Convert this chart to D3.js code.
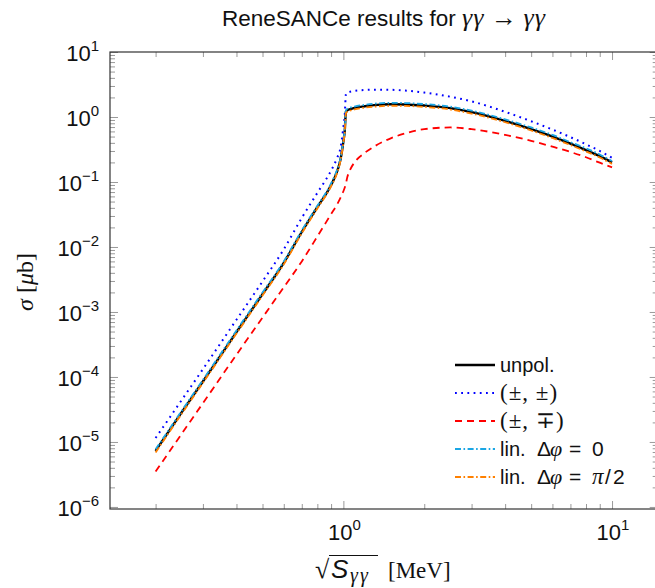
<!DOCTYPE html>
<html><head><meta charset="utf-8">
<script src="https://cdn.jsdelivr.net/npm/d3@7"></script>
<style>body{margin:0;background:#fff}</style>
</head><body>
<svg id="c" width="655" height="588"></svg>
<script>
// ---- data ----
const energies = [0.2, 0.25, 0.3, 0.4, 0.5, 0.6, 0.7, 0.8, 0.9, 0.95, 0.975, 1.0, 1.012, 1.022, 1.035, 1.06, 1.1, 1.2, 1.3, 1.5, 1.7, 2.0, 2.5, 3.0, 4.0, 5.0, 6.0, 7.0, 8.0, 9.0, 10];
const unpol     = [7.3e-6, 2.85e-5, 8.5e-5, 4.9e-4, 1.88e-3, 5.7e-3, 0.017, 0.041, 0.09, 0.15, 0.22, 0.42, 0.62, 1.2, 1.27, 1.32, 1.38, 1.46, 1.52, 1.57, 1.56, 1.5, 1.37, 1.19, 0.87, 0.65, 0.5, 0.39, 0.31, 0.25, 0.2];
const plusPlus  = [1.15e-5, 4.4e-5, 1.32e-4, 7.6e-4, 2.95e-3, 9.2e-3, 0.028, 0.068, 0.15, 0.24, 0.33, 0.7, 1.1, 2.25, 2.38, 2.45, 2.52, 2.6, 2.63, 2.62, 2.55, 2.38, 2.05, 1.74, 1.2, 0.86, 0.64, 0.49, 0.38, 0.3, 0.235];
const plusMinus = [3.5e-6, 1.33e-5, 3.95e-5, 2.2e-4, 8.2e-4, 2.4e-3, 6.0e-3, 0.0145, 0.032, 0.046, 0.057, 0.072, 0.082, 0.095, 0.12, 0.155, 0.2, 0.28, 0.35, 0.47, 0.56, 0.65, 0.69, 0.65, 0.53, 0.43, 0.35, 0.29, 0.24, 0.198, 0.168];
const linZero   = [7.7e-6, 3.0e-5, 9.0e-5, 5.2e-4, 2.0e-3, 6.0e-3, 0.018, 0.043, 0.095, 0.159, 0.23, 0.44, 0.65, 1.26, 1.34, 1.39, 1.45, 1.54, 1.6, 1.65, 1.64, 1.58, 1.44, 1.25, 0.92, 0.69, 0.53, 0.41, 0.33, 0.265, 0.21];
const linHalfPi = [6.9e-6, 2.7e-5, 8.1e-5, 4.65e-4, 1.79e-3, 5.4e-3, 0.0162, 0.039, 0.086, 0.142, 0.21, 0.40, 0.59, 1.14, 1.21, 1.25, 1.31, 1.39, 1.44, 1.49, 1.48, 1.43, 1.3, 1.13, 0.83, 0.62, 0.475, 0.37, 0.295, 0.238, 0.19];

const xMajorTicks = [1, 10];
const xMajorLabels = ["0", "1"];
const yMajorTicks = [1e-6, 1e-5, 1e-4, 1e-3, 1e-2, 1e-1, 1, 10];
const yMajorLabels = ["\u22126", "\u22125", "\u22124", "\u22123", "\u22122", "\u22121", "0", "1"];

const series = [
  {vals: unpol,     color: "#000000", width: 2.4, dash: null},
  {vals: plusPlus,  color: "#0000ff", width: 2.0, dash: "1.8,4.4"},
  {vals: plusMinus, color: "#ff0000", width: 1.8, dash: "7,5"},
  {vals: linZero,   color: "#1aa6e4", width: 1.8, dash: "6,2.5,1.6,2.5"},
  {vals: linHalfPi, color: "#ff8000", width: 1.8, dash: "6,2.5,1.6,2.5"}
];

const SANS = "'Liberation Sans', Arial, sans-serif";
const SERIF = "'Liberation Serif', 'DejaVu Serif', serif";

const svg = d3.select("#c");
const L = 110, R = 657.7, T = 52, B = 509;
const x = d3.scaleLog().domain([0.1353, 14.79]).range([L, R]);
const y = d3.scaleLog().domain([9.3e-7, 10]).range([B, T]);

// minor tick positions
const xMinor = [];
[0.1, 1].forEach(b => { for (let k = 2; k <= 9; k++) { const v = k * b; if (v >= 0.1353 && v <= 14.79) xMinor.push(v); } });
const yMinor = [];
for (let n = -7; n <= 0; n++) for (let k = 2; k <= 9; k++) { const v = k * Math.pow(10, n); if (v >= 9.3e-7 && v <= 10) yMinor.push(v); }

function tickAxis(gen, tr, vals, size) {
  const g = svg.append("g").attr("transform", tr)
    .call(gen.tickValues(vals).tickSize(-size).tickSizeOuter(0).tickFormat(""));
  g.select(".domain").remove();
  g.selectAll(".tick line").attr("stroke", "#9a9a9a").attr("stroke-width", 1);
  return g;
}
tickAxis(d3.axisBottom(x), `translate(0,${B})`, xMinor, 5);
tickAxis(d3.axisBottom(x), `translate(0,${B})`, xMajorTicks, 8);
tickAxis(d3.axisTop(x), `translate(0,${T})`, xMinor, 5);
tickAxis(d3.axisTop(x), `translate(0,${T})`, xMajorTicks, 8);
tickAxis(d3.axisLeft(y), `translate(${L},0)`, yMinor, 5);
tickAxis(d3.axisLeft(y), `translate(${L},0)`, yMajorTicks, 8);
tickAxis(d3.axisRight(y), `translate(${R},0)`, yMinor, 5);
tickAxis(d3.axisRight(y), `translate(${R},0)`, yMajorTicks, 8);

// curves
svg.append("clipPath").attr("id", "pc").append("rect")
  .attr("x", L).attr("y", T).attr("width", R - L).attr("height", B - T);
const line = d3.line().x(d => x(d[0])).y(d => y(d[1])).curve(d3.curveMonotoneX);
series.forEach(s => {
  svg.append("path")
    .datum(energies.map((e, i) => [e, s.vals[i]]))
    .attr("d", line).attr("fill", "none")
    .attr("stroke", s.color).attr("stroke-width", s.width)
    .attr("stroke-dasharray", s.dash).attr("clip-path", "url(#pc)");
});

// frame
svg.append("rect").attr("x", L).attr("y", T).attr("width", R - L).attr("height", B - T)
  .attr("fill", "none").attr("stroke", "#333").attr("stroke-width", 1.2);

// tick labels
xMajorTicks.forEach((v, i) => {
  const t = svg.append("text").attr("x", x(v) + 1).attr("y", 540)
    .attr("text-anchor", "middle").attr("font-family", SANS).attr("font-size", 22).attr("fill", "#111");
  t.append("tspan").text("10");
  t.append("tspan").attr("dy", -10).attr("font-size", 15).text(xMajorLabels[i]);
});
yMajorTicks.forEach((v, i) => {
  const t = svg.append("text").attr("x", 99).attr("y", y(v) + 9)
    .attr("text-anchor", "end").attr("font-family", SANS).attr("font-size", 22).attr("fill", "#111");
  t.append("tspan").text("10");
  t.append("tspan").attr("dy", -10).attr("font-size", 15).text(yMajorLabels[i]);
});

// title
const title = svg.append("text").attr("x", 384).attr("y", 26).attr("text-anchor", "middle")
  .attr("font-family", SANS).attr("font-size", 22.5).attr("fill", "#111");
title.append("tspan").text("ReneSANCe results for ");
title.append("tspan").attr("font-family", SERIF).attr("font-style", "italic").attr("font-size", 26).attr("letter-spacing", 1).text("\u03b3\u03b3");
title.append("tspan").attr("font-family", SERIF).attr("font-size", 26).text(" \u2192 ");
title.append("tspan").attr("font-family", SERIF).attr("font-style", "italic").attr("font-size", 26).attr("letter-spacing", 1).text("\u03b3\u03b3");

// x label
const xl = svg.append("text").attr("y", 578).attr("font-family", SERIF)
  .attr("font-size", 23).attr("fill", "#111");
xl.append("tspan").attr("x", 315).attr("font-size", 26).text("\u221a");
xl.append("tspan").attr("x", 331).attr("font-family", SANS).attr("font-style", "italic").attr("font-size", 26).text("S");
xl.append("tspan").attr("x", 350).attr("dy", 3.5).attr("font-size", 20).attr("letter-spacing", 2).attr("font-style", "italic").text("\u03b3\u03b3");
xl.append("tspan").attr("x", 388).attr("dy", -3.5).text("[MeV]");
svg.append("line").attr("x1", 329).attr("x2", 378).attr("y1", 555.5).attr("y2", 555.5)
  .attr("stroke", "#111").attr("stroke-width", 1.2);

// y label
const yl = svg.append("text").attr("transform", "translate(33,282) rotate(-90)")
  .attr("text-anchor", "middle").attr("font-family", SERIF).attr("font-size", 24).attr("fill", "#111");
yl.append("tspan").attr("font-style", "italic").text("\u03c3");
yl.append("tspan").text(" [");
yl.append("tspan").attr("font-style", "italic").text("\u03bc");
yl.append("tspan").text("b]");

// legend
const legendRows = [
  [["unpol.", SANS, "normal", 500, 20]],
  [["(\u00b1, \u00b1)", SERIF, "normal", 500, 23]],
  [["(\u00b1, \u2213)", SERIF, "normal", 500, 23]],
  [["lin.", SANS, "normal", 500, 20], ["\u0394", SANS, "normal", 537, 21], ["\u03c6", SERIF, "italic", 550, 22], ["=", SANS, "normal", 569, 21], ["0", SANS, "normal", 592, 21]],
  [["lin.", SANS, "normal", 500, 20], ["\u0394", SANS, "normal", 537, 21], ["\u03c6", SERIF, "italic", 550, 22], ["=", SANS, "normal", 569, 21], ["\u03c0", SERIF, "italic", 592, 23], ["/", SANS, "normal", 605, 21], ["2", SANS, "normal", 613, 21]]
];
series.forEach((s, i) => {
  const yy = 365 + i * 28;
  svg.append("line").attr("x1", 455).attr("x2", 495).attr("y1", yy).attr("y2", yy)
    .attr("stroke", s.color).attr("stroke-width", s.width).attr("stroke-dasharray", s.dash);
  const t = svg.append("text").attr("y", yy + 7).attr("fill", "#111");
  legendRows[i].forEach(p => t.append("tspan").attr("x", p[3]).attr("font-family", p[1])
    .attr("font-style", p[2]).attr("font-size", p[4])
    .attr("letter-spacing", p[1] === SERIF && p[0].length > 2 ? 1 : null).text(p[0]));
});
</script>
</body></html>
